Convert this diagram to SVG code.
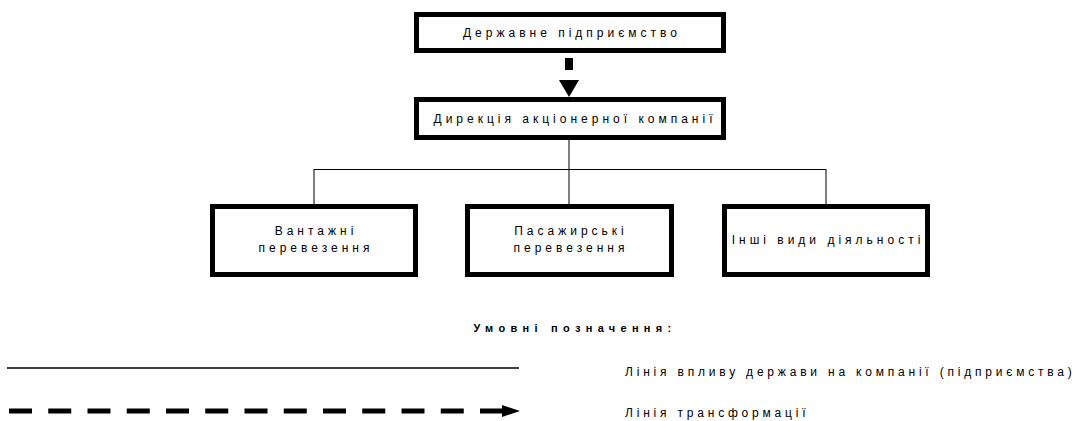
<svg xmlns="http://www.w3.org/2000/svg" width="1080" height="421" viewBox="0 0 1080 421">
<style>
.box{fill:#fff;stroke:#000;stroke-width:5}
.t{font-family:"Liberation Sans",Arial,sans-serif;font-size:12px;letter-spacing:4px;fill:#000;text-anchor:middle}
.lg{font-family:"Liberation Sans",Arial,sans-serif;font-size:12px;letter-spacing:3.8px;fill:#000}
.ttl{font-family:"Liberation Sans",Arial,sans-serif;font-size:11px;font-weight:bold;letter-spacing:5.3px;fill:#000;text-anchor:middle}
.ln{stroke:#000;stroke-width:1;fill:none}
</style>
<rect width="1080" height="421" fill="#fff"/>
<g id="connectors">
<line x1="569" y1="58" x2="569" y2="70" stroke="#000" stroke-width="8"/>
<polygon points="559,80 579,80 569,97" fill="#000"/>
<line class="ln" x1="569" y1="140" x2="569" y2="204"/>
<line class="ln" x1="314" y1="169.5" x2="826" y2="169.5"/>
<line class="ln" x1="314" y1="169" x2="314" y2="204"/>
<line class="ln" x1="826" y1="169" x2="826" y2="204"/>
</g>
<g id="node-state">
<rect class="box" x="416.5" y="14.5" width="307" height="36"/>
<text class="t" x="572" y="37">Державне підприємство</text>
</g>
<g id="node-directorate">
<rect class="box" x="416.5" y="99.5" width="307" height="38"/>
<text class="t" x="575" y="123">Дирекція акціонерної компанії</text>
</g>
<g id="node-freight">
<rect class="box" x="212.5" y="206.5" width="203" height="68"/>
<text class="t" x="316" y="235">Вантажні</text>
<text class="t" x="316" y="252">перевезення</text>
</g>
<g id="node-passenger">
<rect class="box" x="467.5" y="206.5" width="204" height="68"/>
<text class="t" x="571" y="235">Пасажирські</text>
<text class="t" x="571" y="252">перевезення</text>
</g>
<g id="node-other">
<rect class="box" x="724.5" y="206.5" width="203" height="68"/>
<text class="t" x="828" y="244">Інші види діяльності</text>
</g>
<g id="legend">
<text class="ttl" x="575" y="332">Умовні позначення:</text>
<line x1="7" y1="368" x2="519" y2="368" stroke="#000" stroke-width="1.3"/>
<text class="lg" x="625" y="376">Лінія впливу держави на компанії (підприємства)</text>
<line x1="9" y1="411" x2="503" y2="411" stroke="#000" stroke-width="5" stroke-dasharray="23 16.25"/>
<polygon points="502,405 520,411 502,417" fill="#000"/>
<text class="lg" x="625" y="417">Лінія трансформації</text>
</g>
</svg>
